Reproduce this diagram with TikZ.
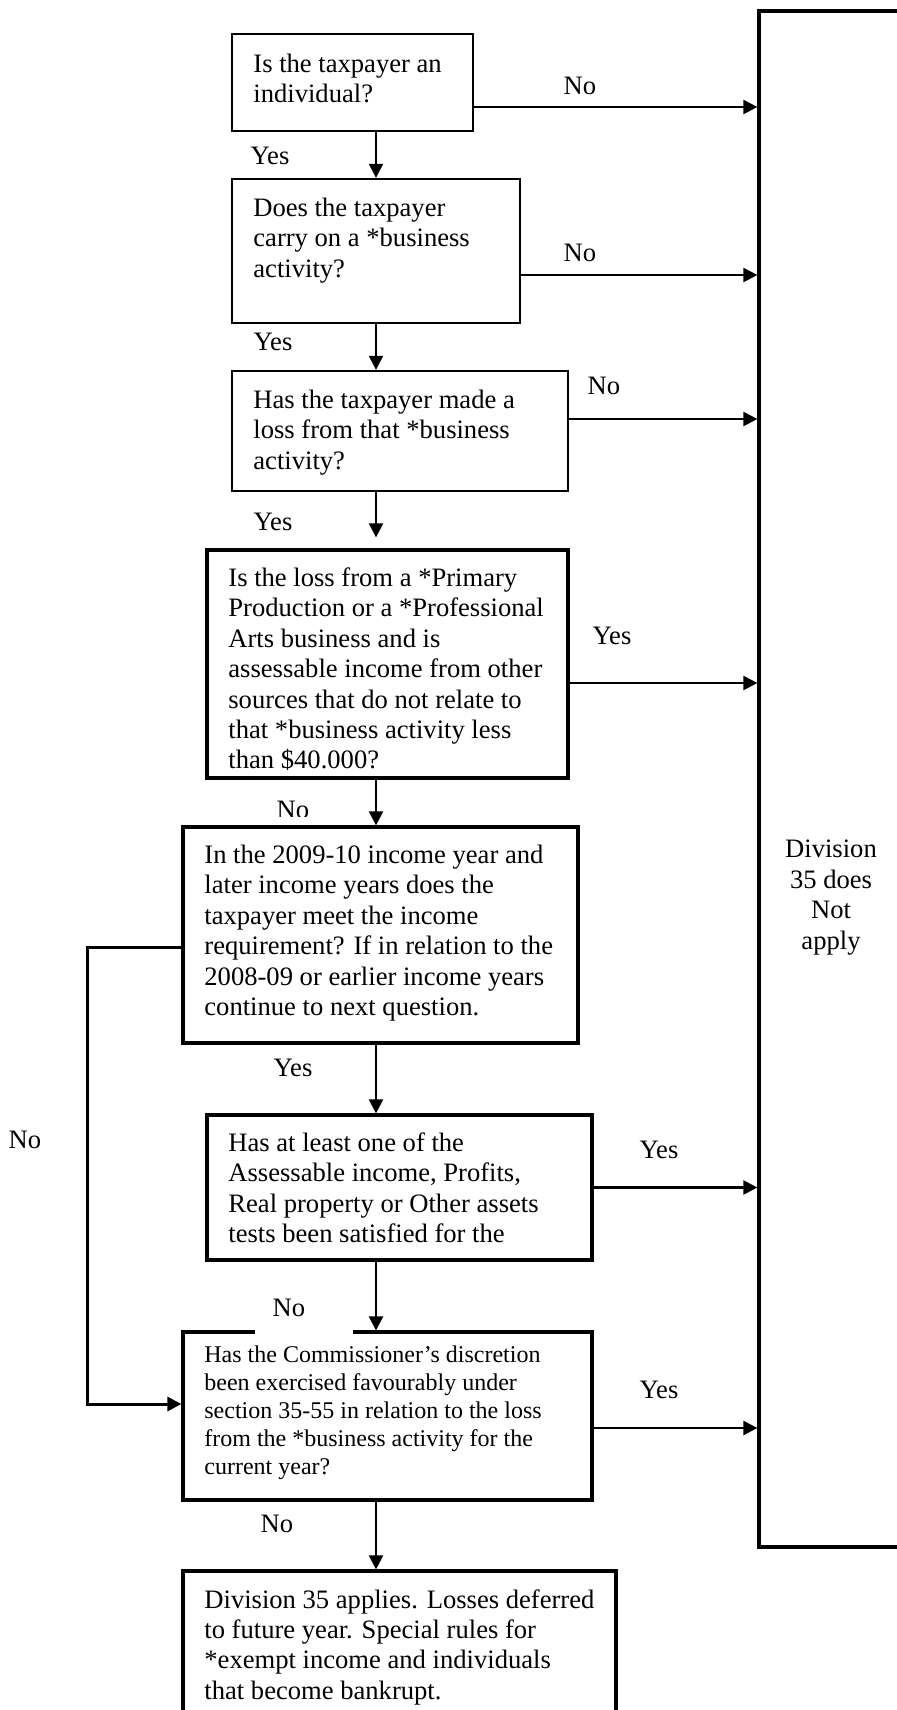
\documentclass[tikz,border=0pt]{standalone}
\usepackage{fontspec}
\setmainfont{Liberation Serif}
\usetikzlibrary{arrows.meta,fit,calc}
\begin{document}
\begin{tikzpicture}[x=0.5pt,y=-0.5pt,
  box/.style={draw, line width=1.15pt, inner sep=0pt, line join=miter},
  tbox/.style={draw, line width=1.6pt, inner sep=0pt, line join=miter},
  txt/.style={inner sep=0pt, anchor=north west, align=left, font=\fontsize{13.3}{15.2}\selectfont},
  stxt/.style={inner sep=0pt, anchor=north west, align=left, font=\fontsize{12}{14}\selectfont},
  lbl/.style={inner sep=0pt, font=\fontsize{13.3}{15.2}\selectfont},
  arr/.style={-{Triangle[length=7pt,width=7pt]}, line width=1.1pt},
  larr/.style={-{Triangle[length=7pt,width=7pt]}, line width=1.5pt, line join=miter},
]
\clip (0,0) rectangle (897,1710);
\fill[white] (0,0) rectangle (897,1710);

% boxes
\node[box,  fit={(232,34) (473,131)}]   (b1) {};
\node[box,  fit={(232,179) (520,323)}]  (b2) {};
\node[box,  fit={(232,371) (568,491)}]  (b3) {};
\node[tbox, fit={(207,550) (568,778)}]  (b4) {};
\node[tbox, fit={(183,827) (578,1043)}] (b5) {};
\node[tbox, fit={(207,1115) (592,1260)}] (b6) {};
\node[tbox, fit={(183,1332) (592,1500)}] (b7) {};
\node[tbox, fit={(183,1571) (616,1725)}] (b8) {};
\node[tbox, fit={(759,11) (905,1547)}]  (na) {};

% box texts
\node[txt] (t1) at (253,47.7) {\rule{0pt}{12pt}Is the taxpayer an\\individual?};
\node[txt] (t2) at (253,192) {\rule{0pt}{12pt}Does the taxpayer\\carry on a *business\\activity?};
\node[txt] (t3) at (253,384) {\rule{0pt}{12pt}Has the taxpayer made a\\loss from that *business\\activity?};
\node[txt] (t4) at (228,562) {\rule{0pt}{12pt}Is the loss from a *Primary\\Production or a *Professional\\Arts business and is\\assessable income from other\\sources that do not relate to\\that *business activity less\\than \$40.000?};
\node[txt] (t5) at (204,839) {\rule{0pt}{12pt}In the 2009-10 income year and\\later income years does the\\taxpayer meet the income\\requirement? If in relation to the\\2008-09 or earlier income years\\continue to next question.};
\node[txt] (t6) at (228,1127) {\rule{0pt}{12pt}Has at least one of the\\Assessable income, Profits,\\Real property or Other assets\\tests been satisfied for the};
\node[stxt] (t7) at (204,1338) {\rule{0pt}{12pt}Has the Commissioner’s discretion\\been exercised favourably under\\section 35-55 in relation to the loss\\from the *business activity for the\\current year?};
\node[txt] (t8) at (204,1583.7) {\rule{0pt}{12pt}Division 35 applies. Losses deferred\\to future year. Special rules for\\*exempt income and individuals\\that become bankrupt.};
\node[inner sep=0pt, anchor=north, align=center, font=\fontsize{13.3}{15.3}\selectfont] (natext) at (831,833) {\rule{0pt}{12pt}Division\\35 does\\Not\\apply};

% white gaps behind labels
\fill[white] (255,1326) rectangle (353,1338);
\fill[white] (262,816.5) rectangle (325,824);

% connector anchors
\coordinate (col) at (376,0);
\coordinate (lx) at (87,0);
\coordinate (e1) at ([yshift=-12.25pt]b1.east);
\coordinate (e2) at ([yshift=-12pt]b2.east);
\coordinate (e3) at ([yshift=6pt]b3.east);
\coordinate (e4) at ([yshift=-9.5pt]b4.east);
\coordinate (e6) at (b6.east);
\coordinate (e7) at ([yshift=-6pt]b7.east);
\coordinate (w5) at ([yshift=-6pt]b5.west);
\coordinate (w7) at ([yshift=6pt]b7.west);

% vertical arrows
\draw[arr] (b1.south -| col) -- (b2.north -| col);
\draw[arr] (b2.south -| col) -- (b3.north -| col);
\draw[arr, shorten >=5.5pt] (b3.south -| col) -- (b4.north -| col);
\draw[arr] (b4.south -| col) -- (b5.north -| col);
\draw[arr] (b5.south -| col) -- (b6.north -| col);
\draw[arr] (b6.south -| col) -- (b7.north -| col);
\draw[arr] (b7.south -| col) -- (b8.north -| col);

% horizontal arrows to "does not apply"
\draw[arr] (e1) -- (e1 -| na.west);
\draw[arr] (e2) -- (e2 -| na.west);
\draw[arr] (e3) -- (e3 -| na.west);
\draw[arr] (e4) -- (e4 -| na.west);
\draw[arr] (e6) -- (e6 -| na.west);
\draw[arr] (e7) -- (e7 -| na.west);

% left loop
\draw[larr] (w5) -- (w5 -| lx) -- (w7 -| lx) -- (w7);

% labels
\node[lbl] (l1) at (580,86) {No};
\node[lbl] (l2) at (270,156) {Yes};
\node[lbl] (l3) at (580,253) {No};
\node[lbl] (l4) at (273,342) {Yes};
\node[lbl] (l5) at (604,386) {No};
\node[lbl] (l6) at (273,521.7) {Yes};
\node[lbl] (l7) at (612,636) {Yes};
\node[lbl] (l8) at (293,810) {No};
\node[lbl] (l9) at (25,1140) {No};
\node[lbl] (l10) at (293,1068) {Yes};
\node[lbl] (l11) at (659,1150) {Yes};
\node[lbl] (l12) at (289,1308) {No};
\node[lbl] (l13) at (659,1390) {Yes};
\node[lbl] (l14) at (277,1524) {No};

% re-clip the bottom of the "No" above box 5
\fill[white] (262,816.5) rectangle (325,824);
\end{tikzpicture}
\end{document}
